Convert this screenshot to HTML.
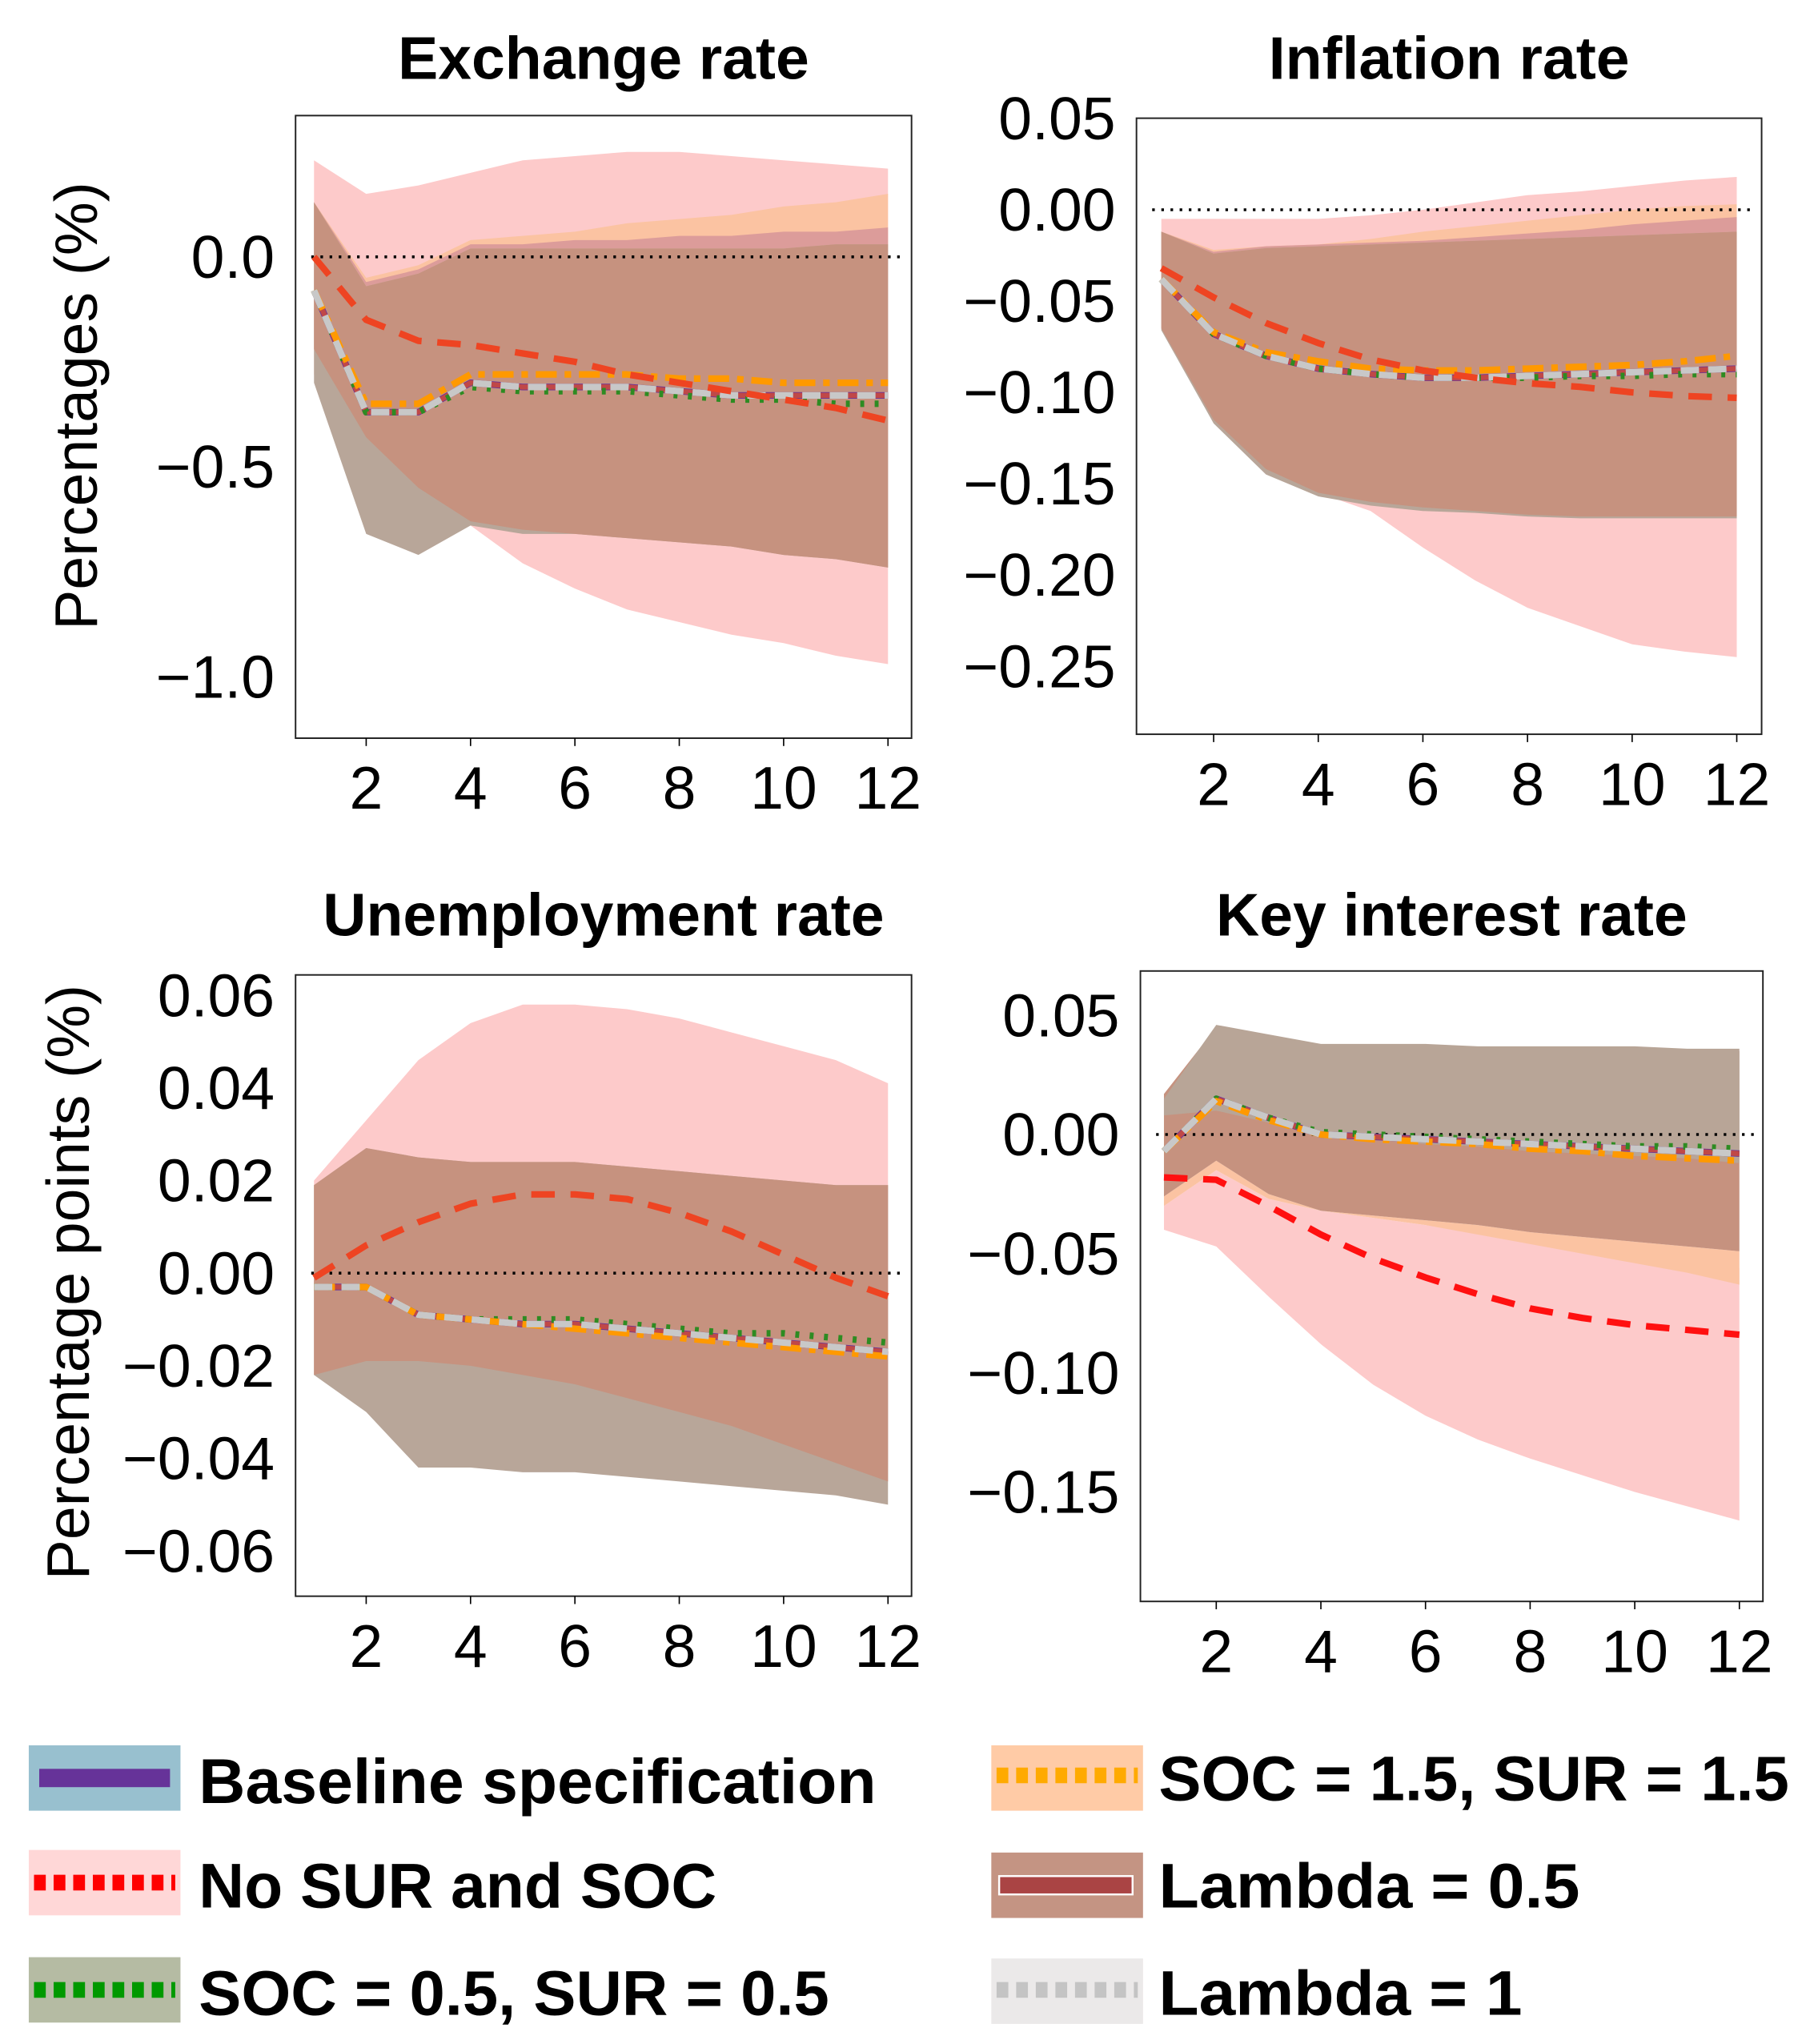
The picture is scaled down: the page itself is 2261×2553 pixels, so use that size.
<!DOCTYPE html>
<html><head><meta charset="utf-8"><style>
html,body{margin:0;padding:0;background:#fff}
svg{display:block}
text{font-family:"Liberation Sans",sans-serif}
</style></head><body>
<svg id="chart" width="2261" height="2553" viewBox="0 0 1384 1562" xmlns="http://www.w3.org/2000/svg">
<g id="panels"></g>
<text transform="translate(74,310) rotate(-90)" text-anchor="middle" font-size="46" fill="#000">Percentages (%)</text>
<text transform="translate(68,980) rotate(-90)" text-anchor="middle" font-size="46" fill="#000">Percentage points  (%)</text>
<g>
 <g>
  <rect x="22" y="1334" width="116" height="50" fill="#98c0cf"/><rect x="30" y="1352" width="100" height="14" fill="#663399"/>
  <text x="152" y="1378" font-size="48" font-weight="bold" textLength="518" lengthAdjust="spacingAndGlyphs">Baseline specification</text></g>
 <g>
  <rect x="22" y="1414" width="116" height="50" fill="#ffd7d7"/><line x1="26" y1="1439" x2="134" y2="1439" stroke="#ff0000" stroke-width="12" stroke-dasharray="9,6"/>
  <text x="152" y="1458" font-size="48" font-weight="bold" textLength="396" lengthAdjust="spacingAndGlyphs">No SUR and SOC</text></g>
 <g>
  <rect x="22" y="1496" width="116" height="50" fill="#b5bba3"/><line x1="26" y1="1521" x2="134" y2="1521" stroke="#009900" stroke-width="12" stroke-dasharray="9,6"/>
  <text x="152" y="1540" font-size="48" font-weight="bold" textLength="482" lengthAdjust="spacingAndGlyphs">SOC = 0.5, SUR = 0.5</text></g>
 <g>
  <rect x="758" y="1334" width="116" height="50" fill="#ffcba6"/><line x1="762" y1="1357" x2="870" y2="1357" stroke="#ffaa00" stroke-width="12" stroke-dasharray="9,6"/>
  <text x="886" y="1376" font-size="48" font-weight="bold" textLength="482" lengthAdjust="spacingAndGlyphs">SOC = 1.5, SUR = 1.5</text></g>
 <g>
  <rect x="758" y="1416" width="116" height="50" fill="#c49483"/><rect x="764" y="1434" width="102" height="14" fill="#aa4444" stroke="#fff" stroke-width="1.5"/>
  <text x="886" y="1458" font-size="48" font-weight="bold" textLength="322" lengthAdjust="spacingAndGlyphs">Lambda = 0.5</text></g>
 <g>
  <rect x="758" y="1497" width="116" height="50" fill="#ebe9e9"/><line x1="762" y1="1521" x2="870" y2="1521" stroke="#c4c4c4" stroke-width="12" stroke-dasharray="9,6"/>
  <text x="886" y="1540" font-size="48" font-weight="bold" textLength="278" lengthAdjust="spacingAndGlyphs">Lambda = 1</text></g>
</g>
</svg>
<script>
const periods=[1,2,3,4,5,6,7,8,9,10,11,12];
const xTicks=[2,4,6,8,10,12];
// Exchange rate
const exBase=[-0.08,-0.37,-0.37,-0.30,-0.31,-0.31,-0.31,-0.32,-0.33,-0.33,-0.33,-0.33];
const exNoSur=[0.0,-0.15,-0.20,-0.21,-0.23,-0.25,-0.28,-0.30,-0.32,-0.34,-0.36,-0.39];
const exSoc15=[-0.08,-0.35,-0.35,-0.28,-0.28,-0.28,-0.28,-0.29,-0.29,-0.30,-0.30,-0.30];
const exSoc05=[-0.08,-0.37,-0.37,-0.31,-0.32,-0.32,-0.32,-0.33,-0.34,-0.34,-0.35,-0.35];
const exPinkUp=[0.23,0.15,0.17,0.20,0.23,0.24,0.25,0.25,0.24,0.23,0.22,0.21];
const exPinkLo=[-0.28,-0.43,-0.55,-0.64,-0.73,-0.79,-0.84,-0.87,-0.90,-0.92,-0.95,-0.97];
const exOrUp=[0.13,-0.05,-0.02,0.04,0.05,0.06,0.08,0.09,0.10,0.12,0.13,0.15];
const exMvUp=[0.13,-0.06,-0.03,0.03,0.03,0.04,0.04,0.05,0.05,0.06,0.06,0.07];
const exBrUp=[0.13,-0.07,-0.04,0.02,0.02,0.02,0.02,0.02,0.02,0.02,0.03,0.03];
const exBrLo=[-0.22,-0.43,-0.55,-0.63,-0.65,-0.66,-0.67,-0.68,-0.69,-0.71,-0.72,-0.74];
const exGrLo=[-0.30,-0.66,-0.71,-0.64,-0.66,-0.66,-0.67,-0.68,-0.69,-0.71,-0.72,-0.74];
const exYTicks=[0.0,-0.5,-1.0];const exYLabels=["0.0","\u22120.5","\u22121.0"];
// Inflation
const inBase=[-0.038,-0.068,-0.080,-0.087,-0.090,-0.092,-0.092,-0.091,-0.090,-0.089,-0.088,-0.087];
const inNoSur=[-0.032,-0.048,-0.062,-0.073,-0.082,-0.088,-0.092,-0.095,-0.097,-0.100,-0.102,-0.103];
const inSoc15=[-0.038,-0.067,-0.078,-0.083,-0.087,-0.088,-0.088,-0.087,-0.086,-0.085,-0.083,-0.080];
const inSoc05=[-0.038,-0.068,-0.080,-0.087,-0.090,-0.092,-0.092,-0.092,-0.091,-0.091,-0.090,-0.090];
const inPinkUp=[-0.005,-0.005,-0.005,-0.005,-0.003,0.0,0.004,0.008,0.010,0.013,0.016,0.018];
const inPinkLo=[-0.065,-0.110,-0.140,-0.155,-0.165,-0.185,-0.203,-0.218,-0.228,-0.238,-0.242,-0.245];
const inOrUp=[-0.012,-0.022,-0.020,-0.019,-0.016,-0.012,-0.009,-0.006,-0.003,0.0,0.002,0.003];
const inMvUp=[-0.012,-0.023,-0.020,-0.019,-0.018,-0.017,-0.015,-0.013,-0.011,-0.008,-0.006,-0.004];
const inBrUp=[-0.012,-0.024,-0.021,-0.020,-0.019,-0.018,-0.017,-0.016,-0.015,-0.014,-0.013,-0.012];
const inBrLo=[-0.065,-0.115,-0.142,-0.155,-0.160,-0.163,-0.165,-0.167,-0.168,-0.168,-0.168,-0.168];
const inGrLo=[-0.066,-0.117,-0.145,-0.157,-0.162,-0.165,-0.166,-0.168,-0.169,-0.169,-0.169,-0.169];
const inYTicks=[0.05,0.0,-0.05,-0.10,-0.15,-0.20,-0.25];const inYLabels=["0.05","0.00","\u22120.05","\u22120.10","\u22120.15","\u22120.20","\u22120.25"];
// Unemployment
const unBase=[-0.003,-0.003,-0.009,-0.010,-0.011,-0.011,-0.012,-0.013,-0.014,-0.015,-0.016,-0.017];
const unNoSur=[-0.001,0.006,0.011,0.015,0.017,0.017,0.016,0.013,0.009,0.004,-0.001,-0.005];
const unSoc15=[-0.003,-0.003,-0.009,-0.010,-0.011,-0.012,-0.013,-0.014,-0.015,-0.016,-0.017,-0.018];
const unSoc05=[-0.003,-0.003,-0.009,-0.010,-0.010,-0.010,-0.011,-0.012,-0.013,-0.013,-0.014,-0.015];
const unPinkUp=[0.020,0.033,0.046,0.054,0.058,0.058,0.057,0.055,0.052,0.049,0.046,0.041];
const unPinkLo=[-0.022,-0.018,-0.018,-0.019,-0.021,-0.024,-0.026,-0.029,-0.032,-0.035,-0.038,-0.042];
const unOrUp=[0.019,0.027,0.025,0.024,0.024,0.024,0.023,0.022,0.021,0.020,0.019,0.019];
const unMvUp=[0.019,0.027,0.025,0.024,0.024,0.024,0.023,0.022,0.021,0.020,0.019,0.019];
const unBrUp=[0.019,0.027,0.025,0.024,0.024,0.024,0.023,0.022,0.021,0.020,0.019,0.019];
const unBrLo=[-0.022,-0.019,-0.019,-0.020,-0.022,-0.024,-0.027,-0.030,-0.033,-0.037,-0.041,-0.045];
const unGrLo=[-0.022,-0.030,-0.042,-0.042,-0.043,-0.043,-0.044,-0.045,-0.046,-0.047,-0.048,-0.050];
const unYTicks=[0.06,0.04,0.02,0.0,-0.02,-0.04,-0.06];const unYLabels=["0.06","0.04","0.02","0.00","\u22120.02","\u22120.04","\u22120.06"];
// Key interest rate
const kiBase=[-0.007,0.015,0.007,0.0,-0.001,-0.002,-0.003,-0.004,-0.005,-0.006,-0.007,-0.008];
const kiNoSur=[-0.018,-0.019,-0.030,-0.042,-0.052,-0.060,-0.067,-0.073,-0.077,-0.080,-0.082,-0.084];
const kiSoc15=[-0.007,0.014,0.006,0.0,-0.002,-0.003,-0.004,-0.006,-0.007,-0.009,-0.010,-0.011];
const kiSoc05=[-0.007,0.015,0.007,0.001,0.0,-0.001,-0.002,-0.003,-0.004,-0.005,-0.005,-0.006];
const kiPinkUp=[-0.030,-0.015,-0.027,-0.032,-0.035,-0.038,-0.041,-0.044,-0.047,-0.050,-0.053,-0.056];
const kiPinkLo=[-0.040,-0.047,-0.068,-0.088,-0.105,-0.118,-0.128,-0.136,-0.143,-0.150,-0.156,-0.162];
const kiOrLo=[-0.030,-0.015,-0.027,-0.032,-0.035,-0.038,-0.042,-0.046,-0.050,-0.054,-0.058,-0.063];
const kiBrUp=[0.017,0.045,0.041,0.036,0.036,0.036,0.036,0.036,0.035,0.035,0.035,0.035];
const kiBrLo=[-0.026,-0.011,-0.025,-0.032,-0.034,-0.036,-0.038,-0.041,-0.043,-0.045,-0.047,-0.049];
const kiGrUp=[0.015,0.046,0.042,0.038,0.038,0.038,0.037,0.037,0.037,0.037,0.036,0.036];
const kiGrLo=[0.008,0.010,0.005,0.001,-0.002,-0.004,-0.005,-0.007,-0.008,-0.009,-0.010,-0.012];
const kiYTicks=[0.05,0.0,-0.05,-0.10,-0.15];const kiYLabels=["0.05","0.00","\u22120.05","\u22120.10","\u22120.15"];

const NS="http://www.w3.org/2000/svg";
const root=document.getElementById('panels');
function mk(tag,attrs,parent){const e=document.createElementNS(NS,tag);for(const k in attrs)e.setAttribute(k,attrs[k]);parent.appendChild(e);return e;}

function panel(cfg){
  const g=mk('g',{},root);
  
  
  const xs=t=>cfg.x2+(t-2)*(cfg.x12-cfg.x2)/10;
  const ys=v=>cfg.y0-v*cfg.k;
  const t=mk('text',{x:(cfg.bx0+cfg.bx1)/2,y:cfg.titleY,'text-anchor':'middle','font-size':46,'font-weight':'bold'},g);
  t.textContent=cfg.title;
  
  
  function band(up,lo,fill,nm){
    let d='M'+periods.map((p,i)=>xs(p)+','+ys(up[i])).join('L');
    d+='L'+periods.slice().reverse().map((p,j)=>{const i=periods.length-1-j;return xs(p)+','+ys(lo[i]);}).join('L')+'Z';
    const e=mk('path',{d:d,fill:fill},g);
    
    
  }
  function line(vals,stroke,w,dash,nm){
    const e=mk('polyline',{points:periods.map((p,i)=>xs(p)+','+ys(vals[i])).join(' '),fill:'none',stroke:stroke,'stroke-width':w,'stroke-dasharray':dash||'none','stroke-linejoin':'round'},g);
    
    
  }
  cfg.bands.forEach(b=>band(b[0],b[1],b[2],b[3]));
  const z=mk('line',{x1:cfg.bx0+12,x2:cfg.bx1-6,y1:ys(0),y2:ys(0),stroke:'#000','stroke-width':2.2,'stroke-dasharray':'2,5'},g);
  
  
  line(cfg.base,'#663399',5,null,'line-baseline');
  line(cfg.base,'#c04848',4,null,'line-lambda-05');
  line(cfg.s05,'#2e8b22',5,'3,8','line-soc-05');
  line(cfg.s15,'#ff9900',5,'16,6,5,6','line-soc-15');
  line(cfg.base,'#c8c8c8',5,'14,7','line-lambda-1');
  line(cfg.ns,cfg.nsColor,5,'18,12','line-no-sur-soc');
  const b=mk('rect',{x:cfg.bx0,y:cfg.by0,width:cfg.bx1-cfg.bx0,height:cfg.by1-cfg.by0,fill:'none',stroke:'#222','stroke-width':1.2},g);
  
  
  xTicks.forEach(v=>{
    mk('line',{x1:xs(v),x2:xs(v),y1:cfg.by1,y2:cfg.by1+6,stroke:'#000','stroke-width':1},g);
    const l=mk('text',{x:xs(v),y:cfg.by1+54,'text-anchor':'middle','font-size':46},g);
    l.textContent=v;
    
    
  });
  cfg.yt.forEach((v,i)=>{
    const l=mk('text',{x:cfg.bx0-16,y:ys(v)+16,'text-anchor':'end','font-size':46},g);
    l.textContent=cfg.yl[i];
    
    
  });
}
const PINK='#fdcaca',ORANGE='#fbc3a2',MAUVE='#dc9c9a',GREY='#b8a699',BROWN='#c6927f',GREYTOP='#b8a597';
panel({name:'panel-exchange-rate',title:'Exchange rate',titleY:60,bx0:226,bx1:697,by0:88,by1:564,x2:280,x12:679,y0:196,k:321,nsColor:'#ee4422',
  bands:[[exPinkUp,exPinkLo,PINK,'band-no-sur-soc'],[exOrUp,exBrUp,ORANGE,'band-soc-15'],[exMvUp,exBrUp,MAUVE,'band-upper-mix'],[exBrUp,exGrLo,GREY,'band-baseline'],[exBrUp,exBrLo,BROWN,'band-lambda-05']],
  base:exBase,ns:exNoSur,s15:exSoc15,s05:exSoc05,yt:exYTicks,yl:exYLabels});
panel({name:'panel-inflation-rate',title:'Inflation rate',titleY:60,bx0:869,bx1:1347,by0:90,by1:561,x2:928,x12:1328,y0:160,k:1396,nsColor:'#ee4422',
  bands:[[inPinkUp,inPinkLo,PINK,'band-no-sur-soc'],[inOrUp,inBrUp,ORANGE,'band-soc-15'],[inMvUp,inBrUp,MAUVE,'band-upper-mix'],[inBrUp,inGrLo,GREY,'band-baseline'],[inBrUp,inBrLo,BROWN,'band-lambda-05']],
  base:inBase,ns:inNoSur,s15:inSoc15,s05:inSoc05,yt:inYTicks,yl:inYLabels});
panel({name:'panel-unemployment-rate',title:'Unemployment rate',titleY:715,bx0:226,bx1:697,by0:745,by1:1220,x2:280,x12:679,y0:973,k:3540,nsColor:'#ee4422',
  bands:[[unPinkUp,unPinkLo,PINK,'band-no-sur-soc'],[unOrUp,unBrUp,ORANGE,'band-soc-15'],[unBrUp,unGrLo,GREY,'band-baseline'],[unBrUp,unBrLo,BROWN,'band-lambda-05']],
  base:unBase,ns:unNoSur,s15:unSoc15,s05:unSoc05,yt:unYTicks,yl:unYLabels});
panel({name:'panel-key-interest-rate',title:'Key interest rate',titleY:715,bx0:872,bx1:1348,by0:742,by1:1224,x2:930,x12:1330,y0:867,k:1822,nsColor:'#ff1010',
  bands:[[kiPinkUp,kiPinkLo,PINK,'band-no-sur-soc'],[kiBrLo,kiOrLo,ORANGE,'band-soc-15'],[kiBrUp,kiBrLo,BROWN,'band-lambda-05'],[kiGrUp,kiGrLo,GREYTOP,'band-baseline']],
  base:kiBase,ns:kiNoSur,s15:kiSoc15,s05:kiSoc05,yt:kiYTicks,yl:kiYLabels});
</script>
</body></html>
